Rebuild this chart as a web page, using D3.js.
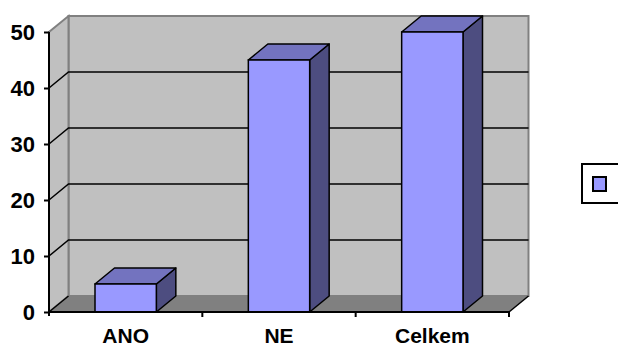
<!DOCTYPE html>
<html>
<head>
<meta charset="utf-8">
<script src="https://cdn.jsdelivr.net/npm/d3@7"></script>
<style>
  html, body { margin: 0; padding: 0; background: #fff; }
  svg { display: block; }
  text { font-family: "Liberation Sans", Arial, sans-serif; font-weight: bold; fill: #000; }
</style>
</head>
<body>
<svg id="chart" width="618" height="347"></svg>
<script>
// Data
const categories = ["ANO", "NE", "Celkem"];
const values = [5, 45, 50];
const yTicks = [0, 10, 20, 30, 40, 50];
const seriesName = "";

const svg = d3.select("#chart");

// Plot geometry (front plane + depth offset for the 3-D look)
const plotLeft = 49, plotRight = 509, plotBottom = 312, plotTop = 32;
const dx = 19.5, dy = -16;

const y = d3.scaleLinear().domain([0, 50]).range([plotBottom, plotTop]);
const x = d3.scaleBand().domain(categories).range([plotLeft, plotRight])
  .paddingInner(0.6).paddingOuter(0.3);

const poly = pts => pts.map(p => p.join(",")).join(" ");

// Back wall
svg.append("polygon")
  .attr("points", poly([[plotLeft + dx, y(0) + dy], [plotRight + dx, y(0) + dy], [plotRight + dx, y(50) + dy], [plotLeft + dx, y(50) + dy]]))
  .attr("fill", "#c0c0c0").attr("stroke", "#808080").attr("stroke-width", 2);

// Left side wall
svg.append("polygon")
  .attr("points", poly([[plotLeft, y(0)], [plotLeft + dx, y(0) + dy], [plotLeft + dx, y(50) + dy], [plotLeft, y(50)]]))
  .attr("fill", "#c0c0c0").attr("stroke", "#808080").attr("stroke-width", 2);

// Floor
svg.append("polygon")
  .attr("points", poly([[plotLeft, y(0)], [plotRight, y(0)], [plotRight + dx, y(0) + dy], [plotLeft + dx, y(0) + dy]]))
  .attr("fill", "#808080").attr("stroke", "none");
svg.append("line")
  .attr("x1", plotRight).attr("y1", y(0)).attr("x2", plotRight + dx).attr("y2", y(0) + dy)
  .attr("stroke", "#000").attr("stroke-width", 1.5);
svg.append("line")
  .attr("x1", plotLeft).attr("y1", y(0)).attr("x2", plotLeft + dx).attr("y2", y(0) + dy)
  .attr("stroke", "#000").attr("stroke-width", 1.5);

// Gridlines on the back and side walls
const grid = yTicks.filter(v => v > 0 && v < 50);
svg.append("g").selectAll("polyline").data(grid).join("polyline")
  .attr("points", v => poly([[plotLeft, y(v)], [plotLeft + dx, y(v) + dy], [plotRight + dx, y(v) + dy]]))
  .attr("fill", "none").attr("stroke", "#000").attr("stroke-width", 1.5);

// Bars: right, top and front faces
const bars = svg.append("g").selectAll("g").data(categories.map((c, i) => ({ c, v: values[i] }))).join("g");
bars.append("polygon")
  .attr("points", d => {
    const x1 = x(d.c) + x.bandwidth();
    return poly([[x1, y(d.v)], [x1 + dx, y(d.v) + dy], [x1 + dx, y(0) + dy], [x1, y(0)]]);
  })
  .attr("fill", "#4d4d80").attr("stroke", "#000").attr("stroke-width", 1.5).attr("stroke-linejoin", "round");
bars.append("polygon")
  .attr("points", d => {
    const x0 = x(d.c), x1 = x(d.c) + x.bandwidth();
    return poly([[x0, y(d.v)], [x0 + dx, y(d.v) + dy], [x1 + dx, y(d.v) + dy], [x1, y(d.v)]]);
  })
  .attr("fill", "#7373bf").attr("stroke", "#000").attr("stroke-width", 1.5).attr("stroke-linejoin", "round");
bars.append("rect")
  .attr("x", d => x(d.c)).attr("y", d => y(d.v))
  .attr("width", x.bandwidth()).attr("height", d => y(0) - y(d.v))
  .attr("fill", "#9999ff").attr("stroke", "#000").attr("stroke-width", 1.5);

// Y axis
const yAxis = svg.append("g").attr("transform", `translate(${plotLeft},0)`)
  .call(d3.axisLeft(y).tickValues(yTicks).tickSize(5).tickPadding(9).tickFormat(d3.format("d")));
yAxis.select(".domain").attr("stroke", "#000").attr("stroke-width", 2).attr("d", `M0,${y(0) + 4}V${y(50)}`);
yAxis.selectAll(".tick line").attr("stroke", "#000").attr("stroke-width", 2);
yAxis.selectAll(".tick text").style("font-size", "22px").attr("dy", "0.36em");

// X axis: labels at category centres, tick marks at category boundaries
const xAxis = svg.append("g").attr("transform", `translate(0,${plotBottom})`)
  .call(d3.axisBottom(x).tickSize(0).tickPadding(16));
xAxis.select(".domain").attr("stroke", "#000").attr("stroke-width", 2).attr("d", `M${plotLeft},0H${plotRight}`);
xAxis.selectAll(".tick text").style("font-size", "21px");
const step = x.step();
const bounds = categories.map((c, i) => plotLeft + step * (i + 1));
xAxis.append("g").selectAll("line").data(bounds).join("line")
  .attr("x1", d => d).attr("x2", d => d).attr("y1", 0).attr("y2", 5)
  .attr("stroke", "#000").attr("stroke-width", 2);

// Legend
const legend = svg.append("g").attr("transform", "translate(582,164)");
legend.append("rect").attr("x", 0).attr("y", 0).attr("width", 60).attr("height", 39)
  .attr("fill", "#fff").attr("stroke", "#000").attr("stroke-width", 2);
legend.append("rect").attr("x", 11).attr("y", 13).attr("width", 13).attr("height", 14)
  .attr("fill", "#9999ff").attr("stroke", "#000").attr("stroke-width", 2);
legend.append("text").attr("x", 30).attr("y", 26).style("font-size", "14px").text(seriesName);
</script>
</body>
</html>
